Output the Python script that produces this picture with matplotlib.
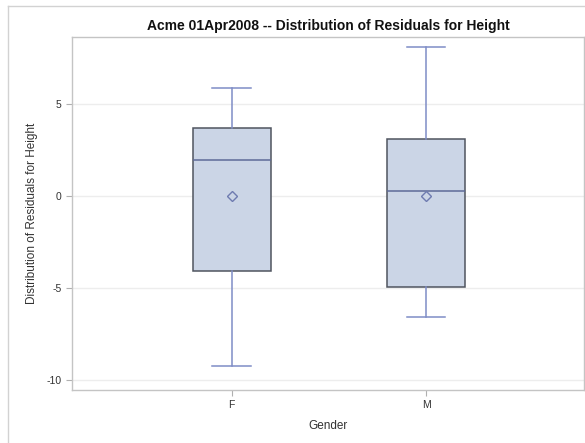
import matplotlib
matplotlib.use("Agg")
import matplotlib.pyplot as plt
from matplotlib.lines import Line2D

plt.rcParams["font.family"] = ["Liberation Sans", "DejaVu Sans"]
plt.rcParams["axes.unicode_minus"] = False

# residual summary per gender
genders = ["F", "M"]
whisker_low = [-9.22, -6.59]
q1 = [-4.11, -4.93]
median = [1.94, 0.26]
q3 = [3.68, 3.06]
whisker_high = [5.85, 8.08]
mean = [0.0, 0.0]

stats = []
for i, g in enumerate(genders):
    stats.append({
        "label": g,
        "whislo": whisker_low[i],
        "q1": q1[i],
        "med": median[i],
        "q3": q3[i],
        "whishi": whisker_high[i],
        "mean": mean[i],
        "fliers": [],
    })

fig = plt.figure(figsize=(5.85, 4.43), dpi=100)
ax = fig.add_axes([72 / 585, 1 - 390 / 443, 512 / 585, 353.5 / 443])

positions = list(range(len(genders)))
ax.bxp(
    stats,
    positions=positions,
    widths=0.40,
    capwidths=0.20,
    patch_artist=True,
    showmeans=True,
    boxprops=dict(facecolor="#CBD5E6", edgecolor="#50555F", linewidth=1.1),
    medianprops=dict(color="#5E6A98", linewidth=1.1),
    whiskerprops=dict(color="#7F8DC6", linewidth=1.1),
    capprops=dict(color="#7F8DC6", linewidth=1.1),
    meanprops=dict(marker="D", markerfacecolor="none", markeredgecolor="#6E7BB0",
                   markersize=5, markeredgewidth=1.0),
    zorder=3,
)

ax.set_xlim(-0.822, 1.813)
ax.set_ylim(-10.54, 8.64)
ax.set_yticks([-10, -5, 0, 5])
ax.set_xticks(positions)
ax.set_xticklabels(genders)
ax.yaxis.grid(True, color="#EDEDED", linewidth=1.0, zorder=0)
ax.set_axisbelow(True)

for s in ax.spines.values():
    s.set_color("#C4C4C4")
    s.set_linewidth(1.0)
ax.tick_params(colors="#B0B0B0", labelcolor="#333333", labelsize=7.5, length=4, width=0.8)

ax.set_xlabel("Gender", fontsize=8.5, color="#333333", labelpad=7)
ax.set_ylabel("Distribution of Residuals for Height", fontsize=8.5, color="#333333")
ax.yaxis.set_label_coords(-(72 - 38) / 512, 0.5)
ax.set_title("Acme 01Apr2008 -- Distribution of Residuals for Height",
             fontsize=10, fontweight="bold", color="#111111", pad=5)

# light border around the graph area
fig.add_artist(Line2D([8 / 585, 8 / 585], [0, 1 - 6 / 443], transform=fig.transFigure,
                      color="#D2D2D2", linewidth=1.0))
fig.add_artist(Line2D([8 / 585, 1], [1 - 6 / 443, 1 - 6 / 443], transform=fig.transFigure,
                      color="#D2D2D2", linewidth=1.0))

fig.savefig("out.png", dpi=100)
